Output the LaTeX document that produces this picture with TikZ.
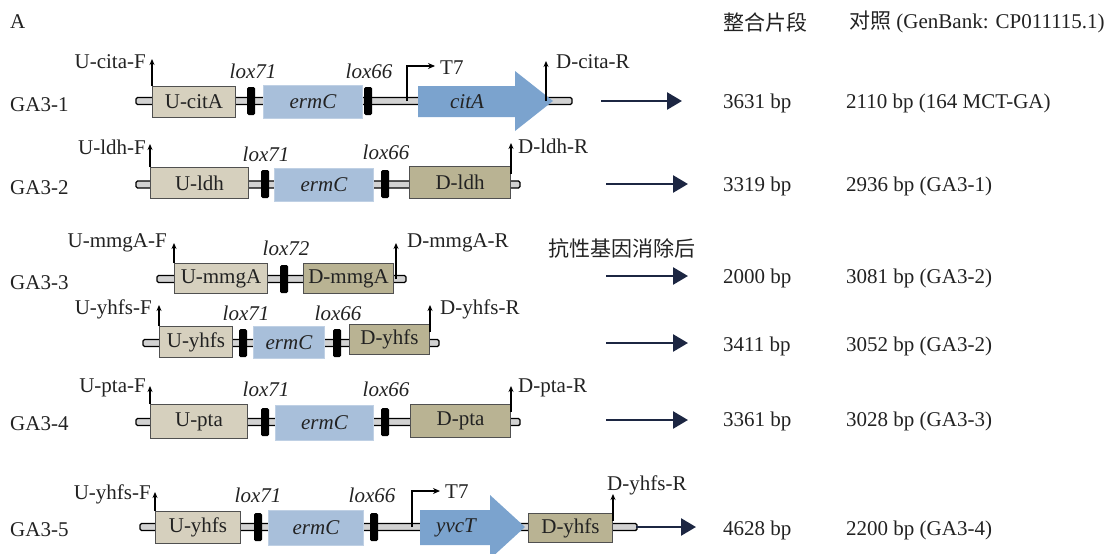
\documentclass[tikz,border=0pt]{standalone}
\usepackage{fontspec}
\setmainfont{Liberation Serif}
\newfontfamily\cjk{Noto Sans CJK SC}
\usetikzlibrary{arrows.meta}
\definecolor{ucol}{HTML}{D6D0BE}
\definecolor{dcol}{HTML}{B9B393}
\definecolor{ermcol}{HTML}{A8BFDA}
\definecolor{ermedge}{HTML}{BFD0E4}
\definecolor{genecol}{HTML}{7BA3CE}
\definecolor{edgecol}{HTML}{505050}
\definecolor{navy}{HTML}{1C2642}
\definecolor{txt}{HTML}{222222}
\tikzset{
  base/.style={font=\fontsize{21}{25}\selectfont, text=txt},
  ubox/.style={draw=edgecol, line width=1pt, fill=ucol, inner sep=0pt, anchor=north west},
  dbox/.style={draw=edgecol, line width=1pt, fill=dcol, inner sep=0pt, anchor=north west},
  ermbox/.style={draw=ermedge, line width=1pt, fill=ermcol, inner sep=0pt, anchor=north west, font=\fontsize{21}{25}\selectfont\itshape},
  loxbar/.style={fill=black, minimum width=8pt, minimum height=28pt, rounded corners=1.5pt, inner sep=0pt},
  backbone/.style={fill=gray!35, draw=black, line width=1.4pt, rounded corners=1.5pt},
  primer/.style={draw=black, line width=1.4pt, -{Stealth[length=6pt,width=5pt]}},
  prom/.style={draw=black, line width=1.2pt, -{Stealth[length=7pt,width=6pt]}},
  bigarrow/.style={draw=navy, line width=2.6pt, -{Triangle[length=15pt,width=17pt]}},
  gene/.style={fill=genecol},
  lbl/.style={inner sep=0pt, font=\fontsize{21}{25}\selectfont},
  loxlbl/.style={inner sep=0pt, font=\fontsize{21}{25}\selectfont\itshape},
  cjklbl/.style={inner sep=0pt, font=\cjk\fontsize{21}{25}\selectfont},
}
\begin{document}
\begin{tikzpicture}[x=1pt,y=-1pt,base]
\useasboundingbox (0,0) rectangle (1111,554);

% header
\node[lbl, anchor=west] (hA) at (10,22) {A};
\node[cjklbl, anchor=west] (hint) at (723,22) {整合片段};
\node[lbl, anchor=west] (hctl) at (849,22) {{\cjk 对照} (GenBank: CP011115.1)};

% ================= GA3-1 =================
\draw[backbone] (136,97.5) rectangle (572,104.5);
\node[ubox, minimum width=83pt, minimum height=31pt] (u1) at (152,86) {U-citA};
\node[loxbar] (l1a) at (251,101) {};
\node[ermbox, minimum width=99pt, minimum height=33pt] (e1) at (263,85) {ermC};
\node[loxbar] (l1b) at (368,101) {};
\coordinate (t1b) at (407,101);
\coordinate (t1t) at (407,66);
\coordinate (t1e) at (435,66);
\draw[prom] (t1b) -- (t1t) -- (t1e);
\node[lbl, anchor=west] (t1) at (440,68) {T7};
\fill[gene] (418,86) -- (515,86) -- (515,71) -- (553,101) -- (515,131) -- (515,117) -- (418,117) -- cycle;
\node[loxlbl] (g1) at (467,102) {citA};
\coordinate (p1r) at (546,101);
\draw[primer] (p1r) -- ++(0,-40);
\draw[primer] (u1.north west) -- ++(0,-27);
\node[lbl, anchor=east] (pf1) at (146,62) {U-cita-F};
\node[lbl, anchor=west] (pr1) at (556,62) {D-cita-R};
\node[loxlbl] (x1a) at (253,71) {lox71};
\node[loxlbl] (x1b) at (369,71) {lox66};
\node[lbl, anchor=west] (n1) at (10,105) {GA3-1};
\coordinate (a1s) at (601,101);
\coordinate (a1e) at (682,101);
\draw[bigarrow] (a1s) -- (a1e);
\node[lbl, anchor=west] (s1) at (723,103) {3631 bp};
\node[lbl, anchor=west] (c1) at (846,103) {2110 bp (164 MCT-GA)};

% ================= GA3-2 =================
\draw[backbone] (136,181) rectangle (520,188);
\node[ubox, minimum width=98pt, minimum height=31pt] (u2) at (150,167) {U-ldh};
\node[loxbar] (l2a) at (265,184) {};
\node[ermbox, minimum width=99pt, minimum height=33pt] (e2) at (274,168) {ermC};
\node[loxbar] (l2b) at (385,184) {};
\node[dbox, minimum width=101pt, minimum height=32pt] (d2) at (409,166) {D-ldh};
\draw[primer] (u2.north west) -- ++(0,-23);
\draw[primer] ([yshift=-8pt]d2.north east) -- ++(0,-31);
\node[lbl, anchor=east] (pf2) at (146,147) {U-ldh-F};
\node[lbl, anchor=west] (pr2) at (518,146) {D-ldh-R};
\node[loxlbl] (x2a) at (266,154) {lox71};
\node[loxlbl] (x2b) at (386,152) {lox66};
\node[lbl, anchor=west] (n2) at (10,188) {GA3-2};
\coordinate (a2s) at (606,184);
\coordinate (a2e) at (688,184);
\draw[bigarrow] (a2s) -- (a2e);
\node[lbl, anchor=west] (s2) at (723,186) {3319 bp};
\node[lbl, anchor=west] (c2) at (846,186) {2936 bp (GA3-1)};

% ================= GA3-3 =================
\draw[backbone] (157,275.5) rectangle (406,282.5);
\node[ubox, minimum width=93pt, minimum height=30pt] (u3) at (174,263) {U-mmgA};
\node[loxbar] (l3a) at (284,279) {};
\node[dbox, minimum width=90pt, minimum height=30pt] (d3) at (303,263) {D-mmgA};
\draw[primer] (u3.north west) -- ++(0,-20);
\coordinate (p3r) at (396,279);
\draw[primer] (p3r) -- ++(0,-36);
\node[lbl, anchor=east] (pf3) at (167,243) {U-mmgA-F};
\node[lbl, anchor=west] (pr3) at (407,243) {D-mmgA-R};
\node[loxlbl] (x3a) at (286,248) {lox72};
\node[lbl, anchor=west] (n3) at (10,283) {GA3-3};
\node[cjklbl, anchor=west] (rm) at (548,248) {抗性基因消除后};
\coordinate (a3s) at (606,276);
\coordinate (a3e) at (688,276);
\draw[bigarrow] (a3s) -- (a3e);
\node[lbl, anchor=west] (s3) at (723,278) {2000 bp};
\node[lbl, anchor=west] (c3) at (846,278) {3081 bp (GA3-2)};

% ================= GA3-3 (yhfs) =================
\draw[backbone] (143,339.5) rectangle (439,346.5);
\node[ubox, minimum width=73pt, minimum height=31pt] (u4) at (159,326) {U-yhfs};
\node[loxbar] (l4a) at (243,343) {};
\node[ermbox, minimum width=71pt, minimum height=32pt] (e4) at (253,326) {ermC};
\node[loxbar] (l4b) at (337,343) {};
\node[dbox, minimum width=80pt, minimum height=30pt] (d4) at (349,324) {D-yhfs};
\draw[primer] (u4.north west) -- ++(0,-21);
\draw[primer] ([yshift=-8pt]d4.north east) -- ++(0,-27);
\node[lbl, anchor=east] (pf4) at (152,309) {U-yhfs-F};
\node[lbl, anchor=west] (pr4) at (440,309) {D-yhfs-R};
\node[loxlbl] (x4a) at (246,313) {lox71};
\node[loxlbl] (x4b) at (338,313) {lox66};
\coordinate (a4s) at (606,343);
\coordinate (a4e) at (688,343);
\draw[bigarrow] (a4s) -- (a4e);
\node[lbl, anchor=west] (s4) at (723,346) {3411 bp};
\node[lbl, anchor=west] (c4) at (846,346) {3052 bp (GA3-2)};

% ================= GA3-4 =================
\draw[backbone] (136,418.5) rectangle (520,425.5);
\node[ubox, minimum width=97pt, minimum height=34pt] (u5) at (150,404) {U-pta};
\node[loxbar] (l5a) at (265,422) {};
\node[ermbox, minimum width=98pt, minimum height=35pt] (e5) at (275,405) {ermC};
\node[loxbar] (l5b) at (385,422) {};
\node[dbox, minimum width=100pt, minimum height=33pt] (d5) at (410,404) {D-pta};
\draw[primer] (u5.north west) -- ++(0,-18);
\draw[primer] ([yshift=-8pt]d5.north east) -- ++(0,-26);
\node[lbl, anchor=east] (pf5) at (146,388) {U-pta-F};
\node[lbl, anchor=west] (pr5) at (518,388) {D-pta-R};
\node[loxlbl] (x5a) at (266,389) {lox71};
\node[loxlbl] (x5b) at (386,389) {lox66};
\node[lbl, anchor=west] (n5) at (10,424) {GA3-4};
\coordinate (a5s) at (606,420);
\coordinate (a5e) at (688,420);
\draw[bigarrow] (a5s) -- (a5e);
\node[lbl, anchor=west] (s5) at (723,421) {3361 bp};
\node[lbl, anchor=west] (c5) at (846,421) {3028 bp (GA3-3)};

% ================= GA3-5 =================
\draw[backbone] (140,523.5) rectangle (637,530.5);
\node[ubox, minimum width=85pt, minimum height=32pt] (u6) at (155,511) {U-yhfs};
\node[loxbar] (l6a) at (258,527) {};
\node[ermbox, minimum width=95pt, minimum height=35pt] (e6) at (268,510) {ermC};
\node[loxbar] (l6b) at (374,527) {};
\coordinate (t6b) at (412,527);
\coordinate (t6t) at (412,491);
\coordinate (t6e) at (440,491);
\draw[prom] (t6b) -- (t6t) -- (t6e);
\node[lbl, anchor=west] (t6) at (445,492) {T7};
\fill[gene] (420,510) -- (490,510) -- (490,495) -- (525,527) -- (490,559) -- (490,545) -- (420,545) -- cycle;
\node[loxlbl] (g6) at (456,528) {yvcT};
\node[dbox, minimum width=84pt, minimum height=29pt] (d6) at (528,513) {D-yhfs};
\draw[primer] ([yshift=-8pt]d6.north east) -- ++(0,-27);
\draw[primer] (u6.north west) -- ++(0,-19);
\node[lbl, anchor=east] (pf6) at (151,494) {U-yhfs-F};
\node[lbl, anchor=west] (pr6) at (607,485) {D-yhfs-R};
\node[loxlbl] (x6a) at (258,495) {lox71};
\node[loxlbl] (x6b) at (372,495) {lox66};
\node[lbl, anchor=west] (n6) at (10,530) {GA3-5};
\coordinate (a6s) at (636,527);
\coordinate (a6e) at (696,527);
\draw[bigarrow] (a6s) -- (a6e);
\node[lbl, anchor=west] (s6) at (723,530) {4628 bp};
\node[lbl, anchor=west] (c6) at (846,530) {2200 bp (GA3-4)};
\end{tikzpicture}
\end{document}
